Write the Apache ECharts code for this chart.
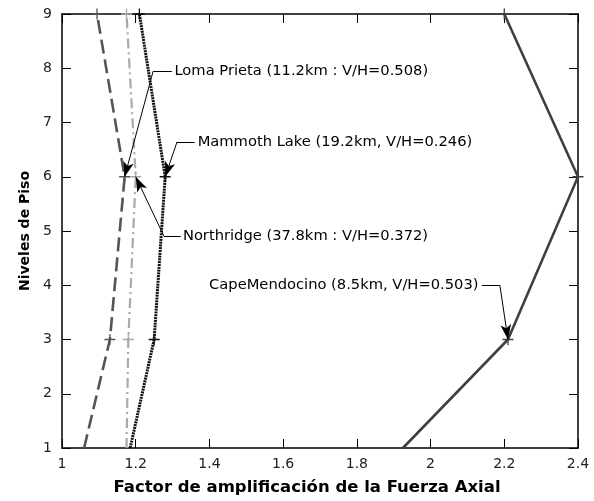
<!DOCTYPE html>
<html><head><meta charset="utf-8">
<script src="https://cdn.jsdelivr.net/npm/echarts@6/dist/echarts.min.js"></script>
<style>html,body{margin:0;padding:0;background:#fff}#c{width:594px;height:501px}</style>
</head><body><div id="c"></div>
<script>
// ---- data ----
const floors = [1, 3, 6, 9];
const lomaPrieta = [1.06, 1.13, 1.17, 1.095];
const northridge = [1.175, 1.18, 1.20, 1.175];
const mammothLake = [1.185, 1.25, 1.28, 1.21];
const capeMendocino = [1.925, 2.21, 2.40, 2.20];
const xTicks = [1, 1.2, 1.4, 1.6, 1.8, 2, 2.2, 2.4];
const yTicks = [1, 2, 3, 4, 5, 6, 7, 8, 9];
const labels = {
  loma: 'Loma Prieta (11.2km : V/H=0.508)',
  mammoth: 'Mammoth Lake (19.2km, V/H=0.246)',
  north: 'Northridge (37.8km : V/H=0.372)',
  cape: 'CapeMendocino (8.5km, V/H=0.503)'
};

// annotation anchors (data coordinates): text, bend, tip
const ann = [
  {key:'loma', text:[1.305, 7.94], start:[1.298, 7.94], bend:[1.247, 7.94], tip:[1.17, 6], pos:'right'},
  {key:'mammoth', text:[1.368, 6.64], start:[1.360, 6.64], bend:[1.312, 6.64], tip:[1.28, 6], pos:'right'},
  {key:'north', text:[1.328, 4.9], start:[1.322, 4.9], bend:[1.277, 4.9], tip:[1.20, 6], pos:'right'},
  {key:'cape', text:[2.13, 4.0], start:[2.139, 4.0], bend:[2.188, 4.0], tip:[2.21, 3], pos:'left'}
];

const plus = 'path://M0,4.4H10V5.6H0Z M4.4,0H5.6V10H4.4Z';
function mk(vals) {
  return vals.map((v, i) => ({value: [v, floors[i]], symbol: floors[i] === 1 ? 'none' : plus}));
}
const font = 'DejaVu Sans, sans-serif';

const series = [
  {name:'Loma', type:'line', data: mk(lomaPrieta), symbolSize: 11, itemStyle:{color:'#555'},
   lineStyle:{color:'#555', width:2.6, type:[14,6]}},
  {name:'North', type:'line', data: mk(northridge), symbolSize: 11, itemStyle:{color:'#aaa'},
   lineStyle:{color:'#aaa', width:2.2, type:[10,4,2,4]}},
  {name:'Mammoth', type:'line', data: mk(mammothLake), symbolSize: 11, itemStyle:{color:'#111'},
   lineStyle:{color:'#111', width:3, type:[2,0.8]}},
  {name:'Cape', type:'line', data: mk(capeMendocino), symbolSize: 11, itemStyle:{color:'#404040'},
   lineStyle:{color:'#404040', width:2.6}}
];

// annotations
series.push({
  type:'line', data: [], silent: true, z: 5,
  markLine: {
    silent: true, animation: false,
    lineStyle: {color:'#000', width:1, type:'solid'},
    label: {show:false},
    symbolSize: [8, 15],
    data: ann.flatMap(a => [
      [{coord:a.start, symbol:'none'}, {coord:a.bend, symbol:'none'}],
      [{coord:a.bend, symbol:'none'}, {coord:a.tip, symbol:'arrow'}]
    ])
  },
  markPoint: {
    silent: true, animation: false, symbol: 'circle', symbolSize: 0,
    data: ann.map(a => ({coord:a.text, label:{show:true, position:a.pos, distance:0,
      formatter: labels[a.key], color:'#000', fontSize:14.7, fontFamily:font}}))
  }
});

const chart = echarts.init(document.getElementById('c'));
const tickCfg = {show:true, inside:true, length:9, lineStyle:{color:'#000', width:1}};
chart.setOption({
  animation: false,
  grid: {left:62, right:16, top:14, bottom:50},
  xAxis: [
    {type:'value', min:1, max:2.4, interval:0.2, position:'bottom',
     axisLine:{show:true, lineStyle:{color:'#000', width:1.5}}, axisTick:tickCfg, splitLine:{show:false},
     axisLabel:{color:'#222', fontSize:14, fontFamily:font, margin:9,
       formatter: v => { const t = xTicks.find(x => Math.abs(x - v) < 1e-6); return t === undefined ? '' : String(t); }},
     name:'Factor de amplificación de la Fuerza Axial', nameLocation:'middle', nameGap:31,
     nameTextStyle:{fontSize:16.5, fontWeight:'bold', color:'#000', fontFamily:font, padding:[0,26,0,0]}},
    {type:'value', min:1, max:2.4, interval:0.2, position:'top',
     axisLine:{show:true, lineStyle:{color:'#000', width:1.5}}, axisTick:tickCfg, axisLabel:{show:false}, splitLine:{show:false}}
  ],
  yAxis: [
    {type:'value', min:1, max:9, interval:1, position:'left',
     axisLine:{show:true, lineStyle:{color:'#000', width:1.5}}, axisTick:tickCfg, splitLine:{show:false},
     axisLabel:{color:'#222', fontSize:14, fontFamily:font, margin:10,
       formatter: v => yTicks.includes(v) ? String(v) : ''},
     name:'Niveles de Piso', nameLocation:'middle', nameGap:26,
     nameTextStyle:{fontSize:14, fontWeight:'bold', color:'#000', fontFamily:font}},
    {type:'value', min:1, max:9, interval:1, position:'right',
     axisLine:{show:true, lineStyle:{color:'#000', width:1.5}}, axisTick:tickCfg, axisLabel:{show:false}, splitLine:{show:false}}
  ],
  series: series
});
</script></body></html>
